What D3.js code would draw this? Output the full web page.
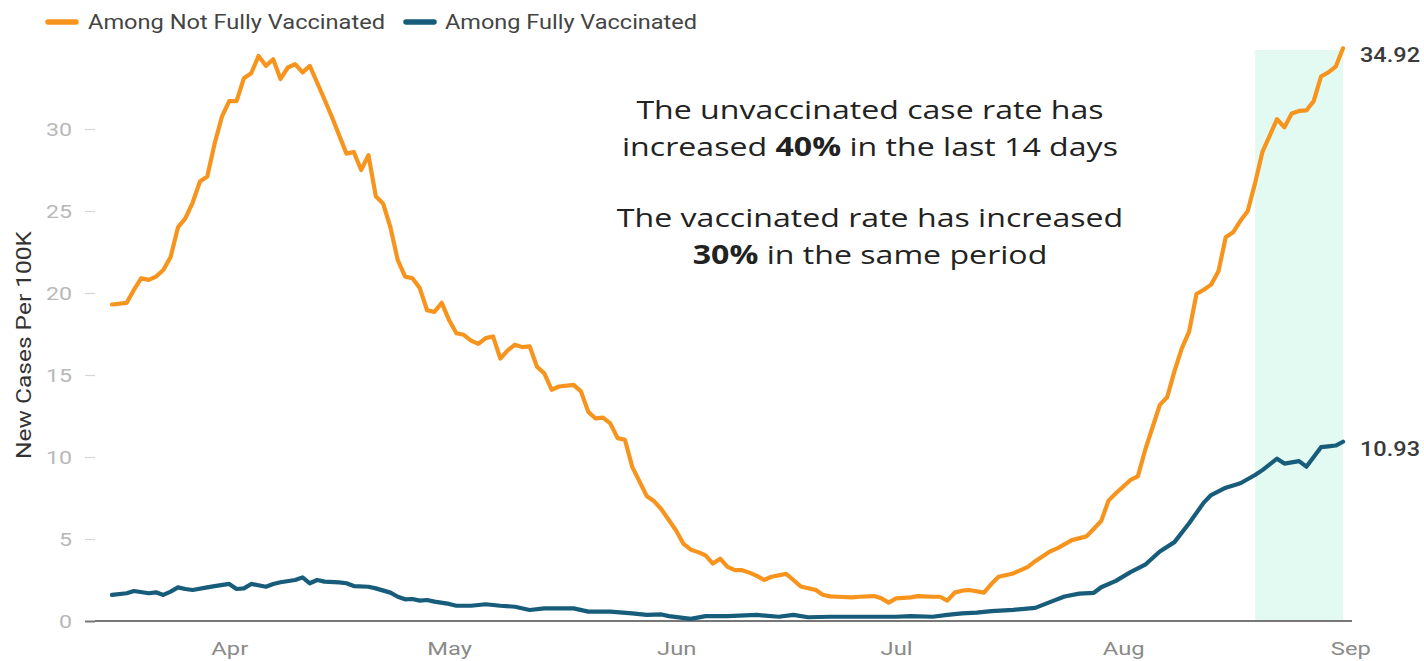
<!DOCTYPE html>
<html><head><meta charset="utf-8">
<script src="https://cdn.jsdelivr.net/npm/d3@7"></script>
<style>
html,body{margin:0;padding:0;background:#fff;}
svg{display:block;}
</style></head>
<body><svg id="chart" width="1424" height="661"></svg>
<script>
// ---- data ----
const seriesNames = ["Among Not Fully Vaccinated", "Among Fully Vaccinated"];
const notVaxDates = ["03-16","03-18","03-19","03-20","03-21","03-22","03-23","03-24","03-25","03-26","03-27","03-28","03-29","03-30","03-31",
"04-01","04-02","04-03","04-04","04-05","04-06","04-07","04-08","04-09","04-10","04-11","04-12","04-14","04-15","04-17","04-18","04-19","04-20","04-21","04-22","04-23","04-24","04-25","04-26","04-27","04-28","04-29","04-30",
"05-01","05-02","05-03","05-04","05-05","05-06","05-07","05-08","05-09","05-10","05-11","05-12","05-13","05-14","05-15","05-16","05-18","05-19","05-20","05-21","05-22","05-23","05-24","05-25","05-26","05-28","05-29","05-30",
"06-01","06-02","06-03","06-04","06-05","06-06","06-07","06-08","06-09","06-10","06-11","06-12","06-13","06-14","06-16","06-17","06-18","06-19","06-20","06-21","06-22","06-23","06-25","06-26","06-28","06-29","06-30",
"07-01","07-03","07-04","07-06","07-07","07-08","07-09","07-10","07-11","07-13","07-14","07-15","07-17","07-19","07-20","07-22","07-23","07-25","07-27","07-28","07-29","07-30","07-31",
"08-02","08-03","08-04","08-05","08-06","08-07","08-08","08-09","08-10","08-11","08-12","08-13","08-14","08-15","08-16","08-17","08-18","08-19","08-20","08-21","08-22","08-23","08-24","08-25","08-26","08-27","08-28","08-29","08-30","08-31"];
const notVaxValues = [19.3,19.4,20.2,20.9,20.8,21.0,21.4,22.2,24.0,24.55,25.5,26.8,27.1,29.1,30.75,
31.7,31.7,33.1,33.4,34.45,33.85,34.25,33.05,33.75,33.95,33.45,33.85,31.8,30.75,28.5,28.6,27.5,28.4,25.9,25.45,24.0,22.0,21.0,20.9,20.3,18.95,18.85,19.4,
18.35,17.55,17.45,17.1,16.9,17.25,17.35,16.0,16.5,16.85,16.7,16.75,15.5,15.1,14.1,14.3,14.4,14.0,12.75,12.35,12.4,12.05,11.15,11.05,9.4,7.6,7.3,6.8,
5.5,4.7,4.35,4.2,4.0,3.5,3.8,3.3,3.1,3.1,2.95,2.75,2.5,2.7,2.87,2.5,2.1,2.0,1.9,1.6,1.5,1.48,1.44,1.48,1.52,1.38,1.12,
1.38,1.44,1.52,1.48,1.48,1.24,1.73,1.85,1.89,1.73,2.25,2.7,2.9,3.3,3.65,4.24,4.43,4.93,5.16,5.62,6.1,7.34,7.79,
8.6,8.82,10.43,11.8,13.18,13.64,15.24,16.62,17.65,19.94,20.2,20.51,21.32,23.4,23.7,24.4,25.0,26.7,28.6,29.6,30.6,30.1,30.95,31.1,31.13,31.7,33.2,33.45,33.8,34.92];

const vaxDates = ["03-16","03-18","03-19","03-21","03-22","03-23","03-24","03-25","03-26","03-27","03-29","03-30",
"04-01","04-02","04-03","04-04","04-06","04-07","04-08","04-10","04-11","04-12","04-13","04-14","04-16","04-17","04-18","04-20","04-21","04-23","04-24","04-25","04-26","04-27","04-28","04-29",
"05-01","05-02","05-04","05-06","05-08","05-10","05-12","05-14","05-16","05-18","05-20","05-23","05-26","05-28","05-30","05-31",
"06-03","06-05","06-08","06-12","06-15","06-17","06-19","06-22","06-26",
"07-01","07-03","07-06","07-08","07-10","07-12","07-14","07-17","07-20","07-22","07-24","07-26","07-28","07-29","07-31",
"08-02","08-04","08-06","08-08","08-10","08-12","08-13","08-15","08-17","08-19","08-20","08-22","08-23","08-25","08-26","08-27","08-28","08-29","08-30","08-31"];
const vaxValues = [1.59,1.69,1.83,1.69,1.75,1.59,1.79,2.05,1.95,1.89,2.05,2.13,
2.26,1.95,1.99,2.26,2.09,2.26,2.36,2.5,2.66,2.3,2.5,2.4,2.36,2.3,2.13,2.09,1.99,1.73,1.48,1.32,1.34,1.24,1.28,1.18,
1.04,0.93,0.93,1.02,0.93,0.87,0.67,0.77,0.77,0.77,0.57,0.57,0.47,0.37,0.4,0.3,
0.13,0.3,0.3,0.37,0.26,0.37,0.23,0.26,0.26,
0.26,0.3,0.26,0.37,0.47,0.51,0.6,0.68,0.8,1.15,1.49,1.67,1.72,2.06,2.45,
2.98,3.43,4.24,4.81,5.96,7.22,7.68,8.13,8.4,8.9,9.2,9.9,9.6,9.75,9.41,10.0,10.6,10.65,10.7,10.93];

const yTicks = [0,5,10,15,20,25,30];
const xTickDates = ["04-01","05-01","06-01","07-01","08-01","09-01"];
const xTickLabels = ["Apr","May","Jun","Jul","Aug","Sep"];
const highlightStart = "08-19", highlightEnd = "08-31";
const endLabels = ["34.92","10.93"];
const yTitle = "New Cases Per 100K";

// ---- drawing ----
const parse = s => d3.timeParse("%Y-%m-%d")("2021-" + s);
const svg = d3.select("#chart");
const colors = ["#f7941d", "#175c7a"];
const SX = 1.22; // horizontal stretch of the reference typography

const x = d3.scaleTime().domain([parse("03-16"), parse("08-31")]).range([112, 1343]);
const y = d3.scaleLinear().domain([0, 35]).range([621, 47]);

// highlight band
svg.append("rect")
  .attr("x", x(parse(highlightStart)))
  .attr("y", 50)
  .attr("width", x(parse(highlightEnd)) - x(parse(highlightStart)))
  .attr("height", y(0) - 50)
  .attr("fill", "#e3faf3");

// y axis
const yAxis = svg.append("g").attr("transform", "translate(95,0)")
  .call(d3.axisLeft(y).tickValues(yTicks).tickSize(10).tickPadding(13));
yAxis.select(".domain").remove();
yAxis.selectAll(".tick line").attr("stroke", "#d6d6d6").attr("stroke-width", 1.2)
  .filter(d => d === 0).attr("stroke", "#777").attr("stroke-width", 2);
yAxis.selectAll(".tick text").attr("fill", "#b8b8b8")
  .style("font-family", "Roboto, sans-serif").style("font-size", "19px")
  .attr("transform", `translate(-23,0) scale(${SX},1) translate(23,0)`);

svg.append("text")
  .attr("transform", `translate(31,345) rotate(-90)`)
  .attr("text-anchor", "middle")
  .attr("textLength", 228).attr("lengthAdjust", "spacingAndGlyphs")
  .style("font-family", "Roboto, sans-serif").style("font-size", "21px")
  .attr("fill", "#333").text(yTitle);

// x axis
const xAxis = svg.append("g").attr("transform", `translate(0,${y(0)})`)
  .call(d3.axisBottom(x).tickValues(xTickDates.map(parse)).tickSize(0).tickPadding(21)
    .tickFormat((d, i) => xTickLabels[i]));
xAxis.select(".domain").remove();
xAxis.selectAll(".tick text").attr("fill", "#8a8a8a")
  .style("font-family", "Roboto, sans-serif").style("font-size", "19px")
  .attr("transform", `scale(1.25,1)`);
svg.append("line").attr("x1", 95).attr("x2", 1352).attr("y1", y(0)).attr("y2", y(0))
  .attr("stroke", "#777").attr("stroke-width", 2);

// lines
const line = d3.line().x(d => x(d[0])).y(d => y(d[1])).curve(d3.curveLinear);
const series = [
  notVaxDates.map((d, i) => [parse(d), notVaxValues[i]]),
  vaxDates.map((d, i) => [parse(d), vaxValues[i]])
];
[1, 0].forEach(k => {
  svg.append("path").datum(series[k]).attr("d", line)
    .attr("fill", "none").attr("stroke", colors[k]).attr("stroke-width", 4.2)
    .attr("stroke-linejoin", "round").attr("stroke-linecap", "round");
});

// end labels
series.forEach((s, k) => {
  const last = s[s.length - 1];
  svg.append("text").attr("x", x(last[0]) + 17).attr("y", y(last[1]) + 14)
    .attr("textLength", 60).attr("lengthAdjust", "spacingAndGlyphs")
    .style("font-family", "Roboto, sans-serif").style("font-size", "21px").style("font-weight", "500")
    .attr("fill", "#3a3a3a").text(endLabels[k]);
});

// legend
const legend = [{x: 48, tx: 88, w: 297}, {x: 406, tx: 445, w: 252}];
legend.forEach((l, k) => {
  svg.append("line").attr("x1", l.x).attr("x2", l.x + 28).attr("y1", 22).attr("y2", 22)
    .attr("stroke", colors[k]).attr("stroke-width", 5.5).attr("stroke-linecap", "round");
  svg.append("text").attr("x", l.tx).attr("y", 29)
    .attr("textLength", l.w).attr("lengthAdjust", "spacingAndGlyphs")
    .style("font-family", "Roboto, sans-serif").style("font-size", "20px")
    .attr("fill", "#444").text(seriesNames[k]);
});

// annotation
const ann = svg.append("g")
  .attr("transform", "translate(870,0) scale(1.235,1) translate(-870,0)")
  .style("font-family", "'Open Sans', sans-serif").style("font-size", "26px")
  .attr("fill", "#222").attr("text-anchor", "middle");
const annLines = [
  [["The unvaccinated case rate has", false]],
  [["increased ", false], ["40%", true], [" in the last 14 days", false]],
  [["The vaccinated rate has increased", false]],
  [["30%", true], [" in the same period", false]]
];
const annY = [119, 156, 227, 264];
annLines.forEach((parts, i) => {
  const t = ann.append("text").attr("x", 870).attr("y", annY[i]);
  parts.forEach(p => t.append("tspan").style("font-weight", p[1] ? "700" : "400").text(p[0]));
});
</script>
</body></html>
